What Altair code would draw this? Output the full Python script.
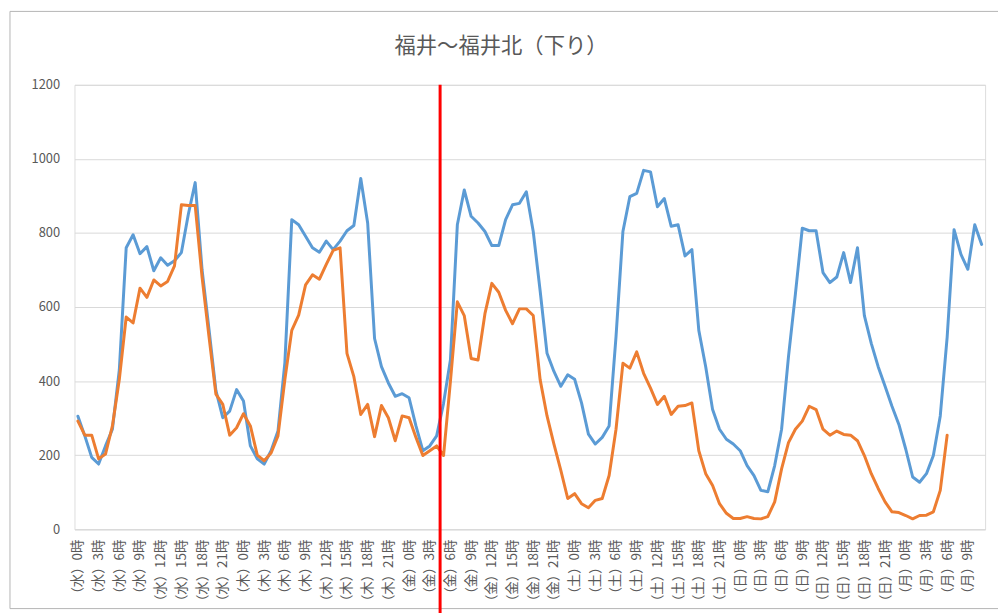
import altair as alt
import pandas as pd

TITLE = "福井～福井北（下り）"
DAYS = ["水", "木", "金", "土", "日", "月"]
TICK_HOURS = list(range(0, 130, 3))
TICK_LABELS = [f"（{DAYS[h // 24]}）{h % 24}時" for h in TICK_HOURS]

BLUE = [305, 252, 194, 176, 225, 270, 430, 760, 795, 744, 763, 698, 733, 713, 725, 747,
        850, 936, 700, 540, 375, 301, 319, 377, 346, 225, 190, 176, 212, 265, 450, 836,
        822, 791, 760, 748, 778, 755, 778, 806, 820, 947, 827, 515, 439, 395, 359, 366,
        355, 279, 212, 225, 252, 340, 458, 822, 916, 845, 827, 804, 766, 766, 836, 876,
        880, 911, 804, 644, 475, 426, 386, 417, 405, 341, 257, 230, 248, 279, 520, 804,
        898, 907, 969, 965, 871, 893, 818, 822, 738, 755, 537, 439, 323, 270, 243, 230,
        212, 172, 145, 105, 101, 172, 270, 466, 635, 813, 806, 806, 693, 666, 681, 747,
        666, 760, 577, 502, 439, 386, 332, 283, 216, 141, 127, 150, 199, 306, 519, 809,
        742, 702, 822, 769]

ORANGE = [292, 254, 254, 190, 203, 279, 404, 573, 557, 651, 626, 673, 657, 669, 711, 876,
          874, 874, 680, 520, 365, 337, 254, 274, 312, 279, 200, 185, 206, 252, 404, 537,
          578, 660, 687, 675, 715, 753, 760, 475, 412, 310, 337, 250, 334, 301, 239, 306,
          301, 248, 199, 212, 225, 199, 400, 614, 577, 461, 457, 582, 664, 640, 591, 555,
          595, 595, 577, 404, 306, 230, 159, 83, 96, 69, 58, 78, 83, 145, 270, 448,
          435, 479, 421, 381, 337, 359, 310, 332, 334, 341, 212, 150, 118, 69, 43, 29,
          29, 34, 29, 28, 34, 74, 163, 234, 270, 292, 332, 323, 270, 254, 265, 256,
          254, 239, 199, 150, 110, 74, 47, 45, 37, 28, 37, 38, 47, 105, 254]

MARKER_HOUR = [52.5]

blue_df = pd.DataFrame({"hour": list(range(len(BLUE))), "value": BLUE})
orange_df = pd.DataFrame({"hour": list(range(len(ORANGE))), "value": ORANGE})
marker_df = pd.DataFrame({"hour": MARKER_HOUR, "value": [1200], "bottom": [-230]})

label_array = "[" + ",".join(f"'{t}'" for t in TICK_LABELS) + "]"

x_axis = alt.Axis(
    values=TICK_HOURS,
    labelExpr=f"{label_array}[round(datum.value / 3)]",
    labelAngle=270,
    labelAlign="right",
    labelBaseline="middle",
    labelPadding=10,
    labelFontSize=13.5,
    labelColor="#595959",
    labelFont="Noto Sans CJK JP",
    labelOverlap=False,
    labelSeparation=0,
    labelFlush=False,
    grid=False,
    ticks=False,
    tickSize=0,
    domainColor="#d9d9d9",
    domainWidth=1,
    title=None,
)
y_axis = alt.Axis(
    values=[0, 200, 400, 600, 800, 1000, 1200],
    format="d",
    grid=True,
    gridColor="#d9d9d9",
    gridWidth=1,
    domain=False,
    ticks=False,
    labelPadding=15,
    labelFontSize=13,
    labelColor="#595959",
    labelFont="Noto Sans CJK JP",
    title=None,
)
x_scale = alt.Scale(domain=[-0.5, 131.5], nice=False, zero=False)
y_scale = alt.Scale(domain=[0, 1200], nice=False)


def xe():
    return alt.X("hour:Q", scale=x_scale, axis=x_axis)


def ye():
    return alt.Y("value:Q", scale=y_scale, axis=y_axis)


frame = alt.Chart(pd.DataFrame({"a": [0]})).mark_rect(
    fillOpacity=0, stroke="#b4b4b4", strokeWidth=1, clip=False
).encode(x=alt.value(-65), x2=alt.value(945), y=alt.value(-74), y2=alt.value(528))

title_text = alt.Chart(pd.DataFrame({"t": [TITLE]})).mark_text(
    fontSize=21.5,
    font="Noto Sans CJK JP",
    color="#595959",
    align="center",
    baseline="middle",
    clip=False,
).encode(text="t:N", x=alt.value(430), y=alt.value(-38))

blue = alt.Chart(blue_df).mark_line(
    color="#5b9bd5", strokeWidth=3, strokeJoin="round", strokeCap="round"
).encode(x=xe(), y=ye())

orange = alt.Chart(orange_df).mark_line(
    color="#ed7d31", strokeWidth=3, strokeJoin="round", strokeCap="round"
).encode(x=xe(), y=ye())

marker = alt.Chart(marker_df).mark_rule(color="#ff0000", strokeWidth=3, clip=False).encode(
    x=xe(), y=ye(), y2="bottom:Q"
)

chart = (
    alt.layer(frame, title_text, blue, orange, marker)
    .properties(
        width=918,
        height=448,
        autosize=alt.AutoSizeParams(type="none"),
        padding={"left": 67, "top": 75, "right": 13, "bottom": 82},
    )
    .configure_view(stroke=None)
    .configure(background="white")
)

chart.save("out.html", embed_options={"renderer": "svg", "actions": False})
